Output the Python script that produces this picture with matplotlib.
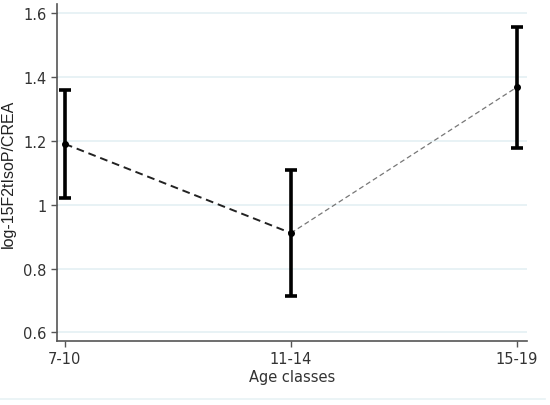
import matplotlib.pyplot as plt
import numpy as np

# data
age_classes = ['7-10', '11-14', '15-19']
means = [1.19, 0.911, 1.368]
lower = [1.022, 0.715, 1.177]
upper = [1.358, 1.107, 1.556]
yticks = [0.6, 0.8, 1.0, 1.2, 1.4, 1.6]
ytick_labels = ['0.6', '0.8', '1', '1.2', '1.4', '1.6']

x = np.arange(1, len(age_classes) + 1)
means = np.array(means)
yerr = [means - np.array(lower), np.array(upper) - means]

fig = plt.figure(figsize=(5.5, 4.06), dpi=100)
ax = fig.add_axes([0.1036, 0.1576, 0.8545, 0.830])

for t in yticks:
    ax.axhline(t, color='#e4f0f3', lw=1.2, zorder=0)

# the two dashed segments are styled differently in the original
ax.plot(x[:2], means[:2], ls=(0, (4, 2.5)), color='#222222', lw=1.4, zorder=2)
ax.plot(x[1:], means[1:], ls=(0, (4, 2.5)), color='#777777', lw=0.9, zorder=2)

ax.errorbar(x, means, yerr=yerr, fmt='o', color='black', ms=4,
            elinewidth=2.6, capsize=4.3, capthick=2.6, zorder=3)

ax.set_xlim(0.965, 3.044)
ax.set_ylim(0.573, 1.628)
ax.set_xticks(x)
ax.set_xticklabels(age_classes)
ax.set_yticks(yticks)
ax.set_yticklabels(ytick_labels)

for s in ['top', 'right']:
    ax.spines[s].set_visible(False)
for s in ['left', 'bottom']:
    ax.spines[s].set_color('#555555')
    ax.spines[s].set_linewidth(1.2)

ax.tick_params(colors='#555555', labelcolor='#333333', labelsize=10.5,
               length=4, width=1)
ax.set_xlabel('Age classes', fontsize=10.5, color='#333333', labelpad=2)
ax.set_ylabel('log-15F2tIsoP/CREA', fontsize=11.5, color='#222222',
              family='Liberation Sans', labelpad=5)

fig.add_artist(plt.Line2D([0.0, 0.99], [0.015, 0.015], color='#e8f2f5', lw=1.2))

plt.savefig('out.png', dpi=100)
